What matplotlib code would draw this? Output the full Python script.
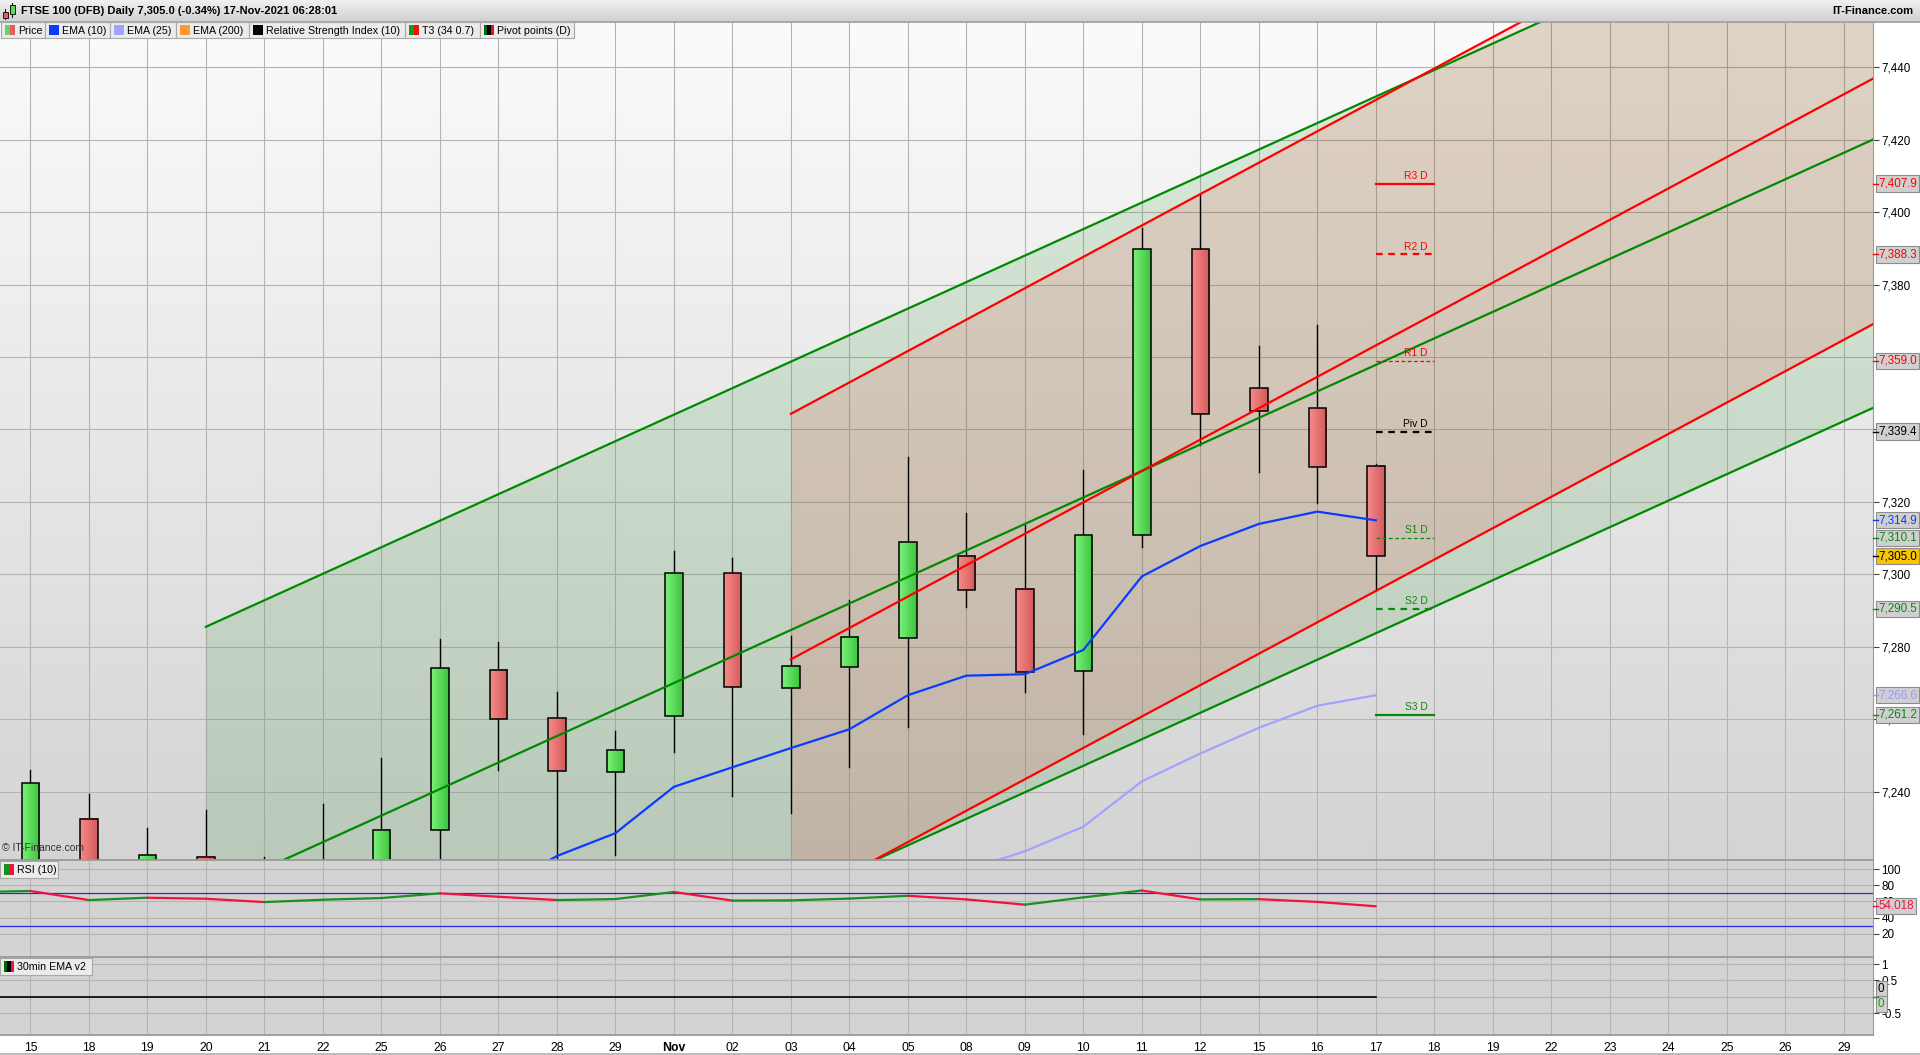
import numpy as np
import matplotlib.pyplot as plt
import matplotlib.transforms as mtransforms
from matplotlib.patches import Rectangle
from matplotlib.colors import LinearSegmentedColormap

plt.rcParams['font.family'] = ['Liberation Sans', 'DejaVu Sans']

# ---------------- data ----------------
days = ['15', '18', '19', '20', '21', '22', '25', '26', '27', '28', '29', 'Nov',
        '02', '03', '04', '05', '08', '09', '10', '11', '12', '15', '16', '17',
        '18', '19', '22', '23', '24', '25', '26', '29']

opens = [7205.0, 7232.5, 7212.0, 7222.0, 7205.0, 7219.0, 7210.0, 7229.5, 7273.7, 7260.2, 7245.3, 7260.9,
         7300.3, 7268.6, 7274.4, 7282.5, 7305.0, 7296.0, 7273.3, 7310.8, 7389.7, 7351.3, 7345.9, 7330.0]
highs = [7246.0, 7239.3, 7230.0, 7235.0, 7222.0, 7236.6, 7249.4, 7282.0, 7281.4, 7267.6, 7256.8, 7306.4,
         7304.4, 7283.0, 7293.0, 7332.4, 7316.9, 7313.5, 7328.7, 7395.5, 7405.0, 7363.0, 7368.7, 7330.4]
lows = [7198.0, 7205.0, 7204.0, 7208.0, 7196.0, 7200.0, 7204.0, 7216.0, 7246.0, 7214.0, 7222.5, 7251.0,
        7238.9, 7234.2, 7246.7, 7257.8, 7290.9, 7267.6, 7256.0, 7307.4, 7335.8, 7328.3, 7319.8, 7295.6]
closes = [7242.3, 7214.0, 7222.4, 7215.0, 7214.0, 7212.0, 7229.5, 7274.0, 7259.9, 7245.7, 7251.4, 7300.3,
          7269.0, 7274.7, 7282.8, 7308.8, 7295.6, 7273.0, 7310.8, 7389.7, 7344.2, 7345.2, 7329.7, 7305.0]

ema10 = [7186, 7189, 7192, 7195, 7198, 7201, 7204, 7208, 7213, 7222.2, 7228.5, 7241.3,
         7246.7, 7252.0, 7257.2, 7266.6, 7272.0, 7272.4, 7279.1, 7299.4, 7307.8, 7313.9, 7317.3, 7314.9]
ema25 = [7168, 7170, 7172, 7174, 7176, 7178, 7181, 7185, 7189, 7193, 7197, 7201,
         7205, 7208, 7211, 7214.5, 7218.3, 7223.5, 7230.3, 7242.8, 7250.5, 7257.6, 7263.7, 7266.6]

rsi_prev = 71.5
rsi = [72.9, 61.7, 64.6, 63.3, 59.2, 62.1, 64.2, 70.0, 65.8, 61.7, 62.9, 71.7,
       61.0, 61.3, 63.5, 67.0, 62.5, 56.0, 65.0, 73.5, 62.5, 62.8, 59.4, 54.018]

# T3 regression channels: bar range, middle line at both ends, half width
green_x = [3, 32]
green_mid = [7211.4, 7423.7]
green_hw = 74.1
red_x = [13, 32]
red_mid = [7276.5, 7441.2]
red_hw = 67.8

pivot_names = ['R3 D', 'R2 D', 'R1 D', 'Piv D', 'S1 D', 'S2 D', 'S3 D']
pivot_vals = [7407.9, 7388.3, 7359.0, 7339.4, 7310.1, 7290.5, 7261.2]

# ---------------- figure ----------------
W, H = 1920, 1055
fig = plt.figure(figsize=(W / 100, H / 100), dpi=100)
fig.patch.set_facecolor('white')


def add_panel(top, bottom, **kw):
    return fig.add_axes([0, 1 - bottom / H, 1873 / W, (bottom - top) / H], **kw)


ax = add_panel(22, 860)
ax_rsi = add_panel(860, 957, sharex=ax)
ax_ema = add_panel(957, 1035, sharex=ax)

RED = '#ff0000'
GRN = '#0a8a0a'
n = len(opens)
x = np.arange(n)

# main background gradient
bg = LinearSegmentedColormap.from_list('bg', ['#fbfbfb', '#d4d4d4'])
ax.imshow(np.linspace(0, 1, 256).reshape(-1, 1), extent=[0, 1, 0, 1], transform=ax.transAxes,
          cmap=bg, aspect='auto', zorder=-2)
ax.set_autoscale_on(False)
ax.set_xlim(-0.52, 31.5)
ax.set_ylim(7221.1, 7452.5)

# channels
for xs, mid, hw, col, a in [(green_x, green_mid, green_hw, '#008000', 0.12),
                            (red_x, red_mid, red_hw, '#ff0000', 0.10)]:
    xs = np.array(xs, dtype=float)
    mid = np.array(mid)
    ax.fill_between(xs, mid - hw, mid + hw, color=col, alpha=a, lw=0, zorder=1)
for xs, mid, hw, col in [(green_x, green_mid, green_hw, '#008a00'), (red_x, red_mid, red_hw, RED)]:
    mid = np.array(mid)
    for off in (-hw, 0, hw):
        ax.plot(xs, mid + off, color=col, lw=1.6, zorder=6)

# candles
gcm = LinearSegmentedColormap.from_list('g', ['#7af27a', '#3ec23e'])
rcm = LinearSegmentedColormap.from_list('r', ['#f88a8a', '#d25a5a'])
hg = np.linspace(0, 1, 32).reshape(1, -1)
bw = 0.3
for i in range(n):
    o, h, l, c = opens[i], highs[i], lows[i], closes[i]
    ax.plot([i, i], [l, h], color='black', lw=1.0, zorder=3)
    lo, hi = min(o, c), max(o, c)
    ax.imshow(hg, extent=[i - bw / 2, i + bw / 2, lo, hi], cmap=gcm if c >= o else rcm,
              aspect='auto', interpolation='bilinear', zorder=4)
    ax.add_patch(Rectangle((i - bw / 2, lo), bw, hi - lo, fill=False, ec='black', lw=1.1, zorder=4.5))

# EMAs
ax.plot(x, ema25, color='#a2a2ff', lw=1.6, zorder=5)
ax.plot(x, ema10, color='#0a3cff', lw=1.6, zorder=5)

# pivots
piv_cols = [RED, RED, RED, 'black', GRN, GRN, GRN]
piv_styles = [('-', 1.6), ((0, (3, 2.5)), 1.6), ((0, (3, 2)), 0.9), ((0, (3, 2.5)), 1.6),
              ((0, (3, 2)), 0.9), ((0, (3, 2.5)), 1.6), ('-', 1.6)]
for name, v, col, (ls, lw) in zip(pivot_names, pivot_vals, piv_cols, piv_styles):
    ax.plot([n - 1, n], [v, v], color=col, ls=ls, lw=lw, zorder=7)
    ax.text(n - 0.12, v + 0.8, name, color=col, fontsize=7.4, ha='right', va='bottom', zorder=7)

ax.text(0.001, 0.008, '\u00a9 IT-Finance.com', transform=ax.transAxes, fontsize=7.5, color='#333333',
        ha='left', va='bottom', zorder=8)

# ---------------- RSI panel ----------------
ax_rsi.set_facecolor('#d3d3d3')
ax_rsi.set_ylim(-8.75, 111.25)
for v in (70, 30):
    ax_rsi.axhline(v, color='#2a2ae0', lw=0.9, zorder=2)
rx = np.concatenate([[-1], x])
ry = np.concatenate([[rsi_prev], rsi])
for k in range(len(rx) - 1):
    col = '#18911e' if ry[k + 1] >= ry[k] else '#f0143c'
    ax_rsi.plot(rx[k:k + 2], ry[k:k + 2], color=col, lw=1.6, zorder=3, solid_capstyle='round')
ax_rsi.set_yticks([20, 40, 60, 80, 100])
ax_rsi.set_yticklabels(['20', '40', '60', '80', '100'])

# ---------------- 30min EMA panel ----------------
ax_ema.set_facecolor('#d3d3d3')
ax_ema.set_ylim(-1.17, 1.22)
ax_ema.plot([-1, n - 1], [0, 0], color='black', lw=1.2, zorder=3)
ax_ema.set_yticks([-0.5, 0, 0.5, 1])
ax_ema.set_yticklabels(['-0.5', '0', '0.5', '1'])

# ---------------- axes styling ----------------
ax.set_yticks(np.arange(7240, 7441, 20))
ax.set_yticklabels([f'{v:,}' for v in range(7240, 7441, 20)])
for t in ax.get_yticklabels():
    if t.get_text() in ('7,400', '7,300'):
        t.set_fontweight('bold')
for t in ax_rsi.get_yticklabels():
    if t.get_text() == '100':
        t.set_fontweight('bold')

for a in (ax, ax_rsi, ax_ema):
    a.set_xticks(np.arange(len(days)))
    a.grid(True, color='#b4b4b4', lw=0.8, zorder=0.5)
    a.set_axisbelow(True)
    a.yaxis.tick_right()
    a.tick_params(axis='y', length=4, width=0.8, color='#444444', labelsize=8.4, pad=2)
    a.tick_params(axis='x', length=0, labelbottom=False)
    for s in ('left', 'top', 'bottom'):
        a.spines[s].set_visible(False)
    a.spines['right'].set_color('#9a9a9a')

ax_ema.tick_params(axis='x', labelbottom=True, pad=5)
ax_ema.set_xticklabels(days, fontsize=8.8, family=['Liberation Sans Narrow', 'Liberation Sans'])
for t in ax_ema.get_xticklabels():
    if t.get_text() == 'Nov':
        t.set_fontweight('bold')
ax.set_xlim(-0.52, 31.5)


# value boxes on the right
def value_box(a, v, txt, col, fc='#d0d0d0', tick=True, tick_v=None):
    tr = mtransforms.blended_transform_factory(fig.transFigure, a.transData)
    a.text(1878 / W, v, txt, transform=tr, fontsize=8.4, color=col, ha='left', va='center',
           bbox=dict(boxstyle='square,pad=0.18', fc=fc, ec='#8c8c8c', lw=0.8), clip_on=False, zorder=20)
    if tick:
        tv = v if tick_v is None else tick_v
        a.plot([1873 / W, 1878 / W], [tv, tv], transform=tr, color=col, lw=1.0, clip_on=False, zorder=20)


for v, col in zip(pivot_vals, piv_cols):
    value_box(ax, v, f'{v:,.1f}', col)
value_box(ax, ema10[-1], f'{ema10[-1]:,.1f}', '#0a3cff')
value_box(ax, ema25[-1], f'{ema25[-1]:,.1f}', '#9898ff')
value_box(ax, closes[-1], f'{closes[-1]:,.1f}', 'black', fc='#f7c600')
value_box(ax_rsi, rsi[-1], f'{rsi[-1]:.3f}', '#f0143c')
value_box(ax_ema, 0.24, '0', 'black', tick=False)
value_box(ax_ema, -0.22, '0', '#18a018', tick_v=0)

# ---------------- overlay decorations (pixel coords) ----------------
ov = fig.add_axes([0, 0, 1, 1], zorder=30)
ov.axis('off')
ov.patch.set_alpha(0)

hdr = LinearSegmentedColormap.from_list('hdr', ['#f0f0f0', '#d2d2d2'])
ov.imshow(np.linspace(0, 1, 64).reshape(-1, 1), extent=[0, W, 21, 0], cmap=hdr, aspect='auto', zorder=1)
ov.plot([0, W], [21.5, 21.5], color='#9a9a9a', lw=1.2, zorder=2)
ov.set_xlim(0, W)
ov.set_ylim(H, 0)
# candle icon
ov.plot([5, 5], [9, 19], color='black', lw=0.7, zorder=3)
ov.add_patch(Rectangle((2.5, 12), 5, 6, fc='#e06060', ec='black', lw=0.6, zorder=4))
ov.plot([12, 12], [3, 17], color='black', lw=0.7, zorder=3)
ov.add_patch(Rectangle((9.5, 5), 5, 9, fc='#5ed85e', ec='black', lw=0.6, zorder=4))
ov.text(21, 11, 'FTSE 100 (DFB) Daily 7,305.0 (-0.34%) 17-Nov-2021 06:28:01', fontsize=8.0,
        fontweight='bold', ha='left', va='center', zorder=5)
ov.text(1913, 11, 'IT-Finance.com', fontsize=8.0, fontweight='bold', ha='right', va='center', zorder=5)

legend_items = [(1, 45, 'Price', ['#6ad46a', '#e06060']),
                (45, 110, 'EMA (10)', ['#0a3cff']),
                (110, 176, 'EMA (25)', ['#a2a2ff']),
                (176, 249, 'EMA (200)', ['#ff9933']),
                (249, 405, 'Relative Strength Index (10)', ['#000000']),
                (405, 480, 'T3 (34 0.7)', ['#12a012', '#ee1111']),
                (480, 574, 'Pivot points (D)', ['#006600', '#000000', '#ee1111'])]


def label_box(x0, x1, y0, y1, text, cols):
    ov.add_patch(Rectangle((x0, y0), x1 - x0, y1 - y0, fc='#ebebeb', ec='#a8a8a8', lw=0.8, zorder=5))
    sw = 10 / len(cols)
    for k, c in enumerate(cols):
        ov.add_patch(Rectangle((x0 + 4 + k * sw, y0 + 3), sw, y1 - y0 - 6, fc=c, lw=0, zorder=6))
    ov.text(x0 + 17, (y0 + y1) / 2 + 0.5, text, fontsize=7.7, ha='left', va='center', zorder=7)


for x0, x1, text, cols in legend_items:
    label_box(x0, x1, 22, 38, text, cols)
label_box(0, 58, 861, 878, 'RSI (10)', ['#18911e', '#f0143c'])
label_box(0, 92, 958, 975, '30min EMA v2', ['#006600', '#000000', '#f0143c'])

# panel separators and frame
for yy in (860, 957, 1035):
    ov.plot([0, 1873], [yy, yy], color='#9a9a9a', lw=1.3, zorder=3)
ov.plot([0, W], [1053.5, 1053.5], color='#b0b0b0', lw=1.2, zorder=3)

fig.savefig('out.png', dpi=100, facecolor='white')
